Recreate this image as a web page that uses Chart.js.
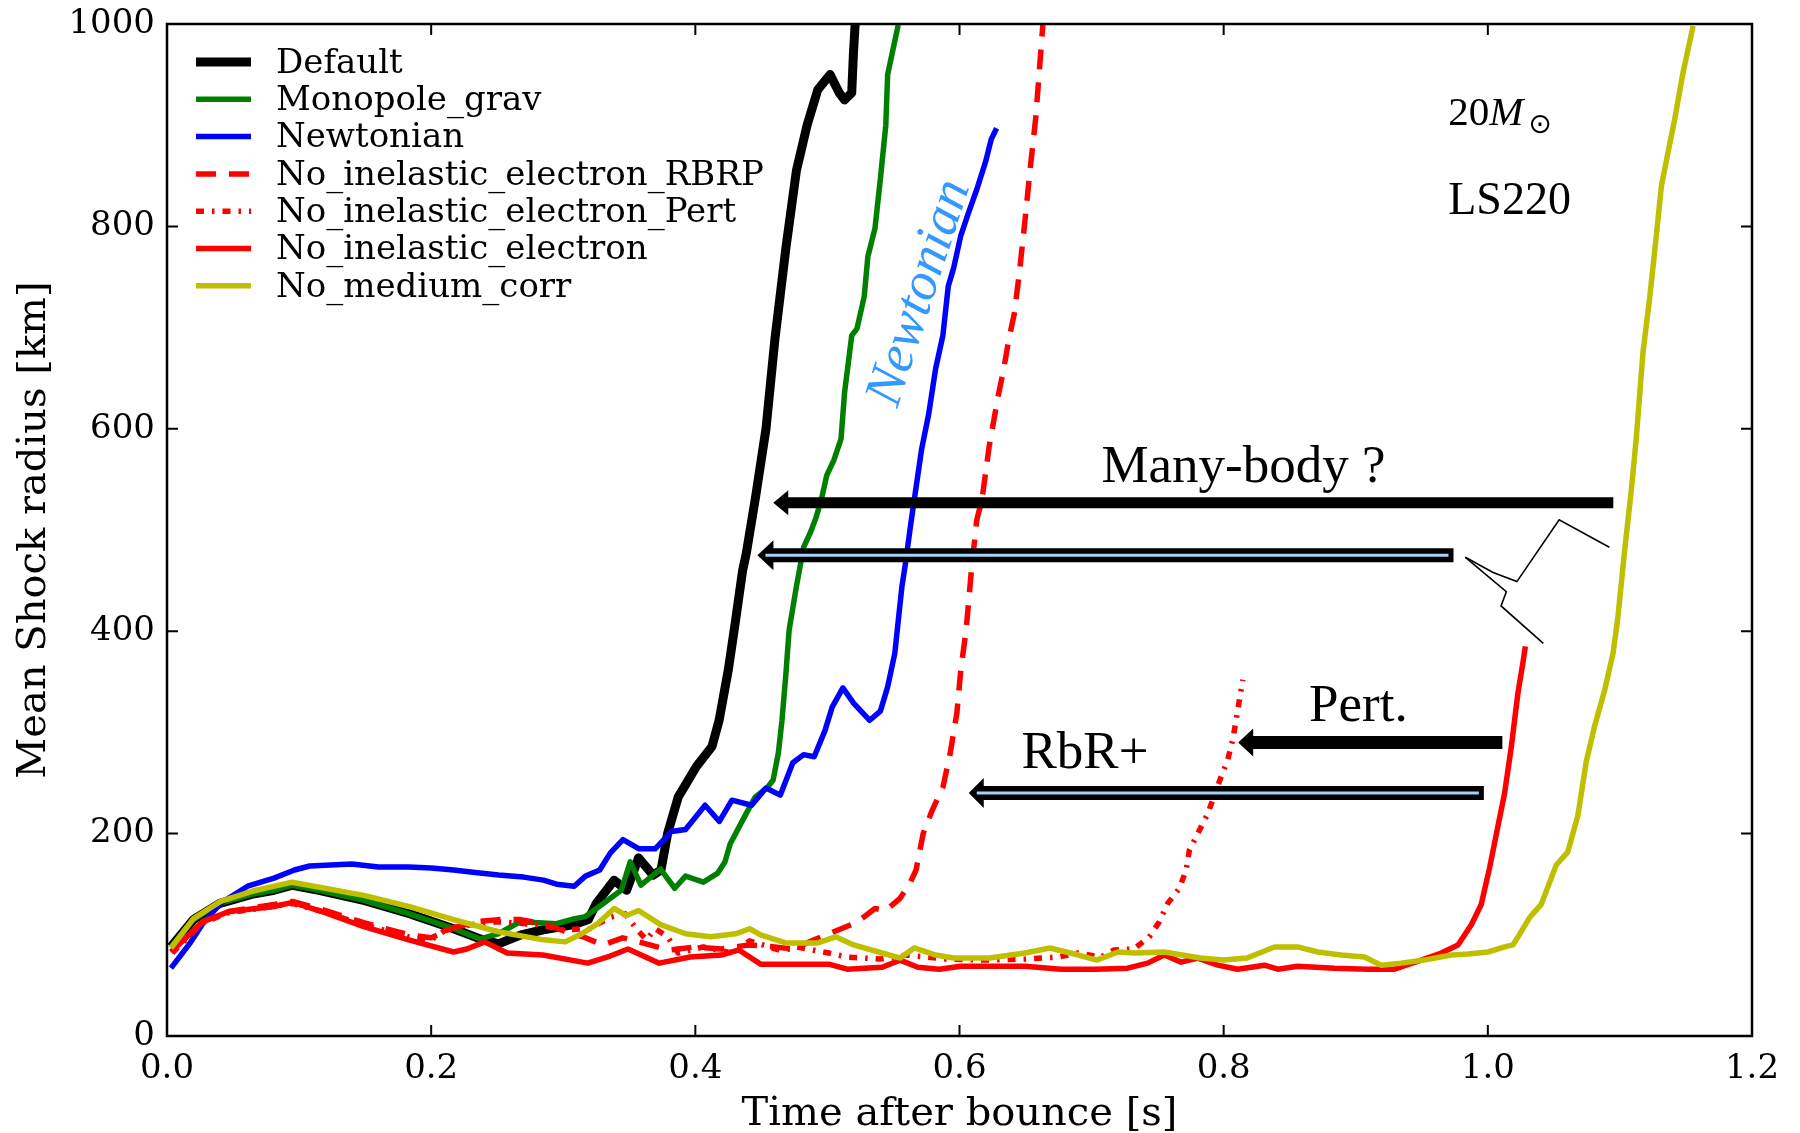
<!DOCTYPE html>
<html>
<head>
<meta charset="utf-8">
<script src="https://cdn.jsdelivr.net/npm/chart.js@4.4.0/dist/chart.umd.min.js"></script>
<style>
  html, body { margin: 0; padding: 0; background: #fff; }
</style>
</head>
<body>
<canvas id="shock-chart" width="1800" height="1133"></canvas>
<script>
// Mean shock radius [km] vs time after bounce [s], 20 Msun, LS220
// each run: [time, radius] pairs
const runDefault = [[0.003,88],[0.02,115],[0.04,131],[0.064,140],[0.081,144],[0.095,149],[0.115,144],[0.149,134],[0.183,121],[0.217,106],[0.237,96],[0.251,91],[0.268,100],[0.285,105],[0.308,110],[0.319,115],[0.325,131],[0.3385,154],[0.348,144],[0.357,176],[0.368,159],[0.374,164],[0.379,200],[0.387,236],[0.4007,266],[0.4126,286],[0.418,312],[0.425,362],[0.4305,411],[0.4358,460],[0.4386,477],[0.4453,530],[0.4535,600],[0.4602,688],[0.4684,777],[0.4765,855],[0.4846,900],[0.4927,935],[0.502,950],[0.5089,932],[0.513,925],[0.5184,932],[0.5197,971],[0.521,1000]];
const runMonopole = [[0.003,88],[0.02,115],[0.04,131],[0.064,140],[0.081,144],[0.095,149],[0.115,144],[0.149,134],[0.183,121],[0.217,106],[0.237,96],[0.2507,101],[0.2677,113],[0.2948,111],[0.3087,116],[0.3168,118],[0.3303,131],[0.3439,144],[0.3507,172],[0.3588,149],[0.3736,165],[0.3844,146],[0.3926,158],[0.4061,152],[0.417,161],[0.4224,172],[0.4264,190],[0.4305,200],[0.4386,220],[0.4453,236],[0.4548,246],[0.4589,253],[0.4629,280],[0.4656,312],[0.4684,355],[0.471,401],[0.4765,444],[0.482,483],[0.4873,498],[0.4913,512],[0.4954,530],[0.4995,554],[0.5049,569],[0.5103,590],[0.513,636],[0.5157,664],[0.5184,692],[0.5224,699],[0.5279,731],[0.5306,770],[0.536,798],[0.5401,847],[0.5442,900],[0.5456,950],[0.5536,999]];
const runNewtonian = [[0.003,67],[0.017,91],[0.027,111],[0.0405,131],[0.061,148],[0.081,156],[0.0965,164],[0.108,168],[0.14,170],[0.16,167],[0.183,167],[0.2,166],[0.217,164],[0.23,162],[0.251,159],[0.27,157],[0.285,154],[0.295,150],[0.3083,148],[0.3168,158],[0.3276,164],[0.3357,181],[0.3452,194],[0.3574,185],[0.3696,185],[0.3818,202],[0.3926,204],[0.4074,228],[0.4182,212],[0.4277,233],[0.4426,228],[0.4535,245],[0.4643,238],[0.4738,270],[0.482,278],[0.49,276],[0.4982,302],[0.5036,325],[0.5117,344],[0.5198,329],[0.532,312],[0.5401,321],[0.5456,345],[0.551,378],[0.5537,411],[0.5564,444],[0.5591,467],[0.563,505],[0.5712,579],[0.5766,614],[0.582,660],[0.5874,692],[0.5915,741],[0.5956,759],[0.601,791],[0.6064,812],[0.6132,837],[0.62,865],[0.624,886],[0.6281,897]];
const runNoInelRBRP = [[0.004,85],[0.027,113],[0.047,123],[0.081,130],[0.095,133],[0.115,126],[0.149,112],[0.183,100],[0.2,97],[0.217,107],[0.235,113],[0.2507,115],[0.2677,115],[0.2846,111],[0.3,104],[0.315,98],[0.33,90],[0.345,97],[0.36,92],[0.38,85],[0.4,88],[0.42,86],[0.44,90],[0.46,88],[0.474,86],[0.49,95],[0.501,101],[0.52,111],[0.525,115],[0.536,126],[0.5441,124],[0.555,136],[0.559,144],[0.5621,150],[0.5671,164],[0.5725,200],[0.5793,223],[0.5875,246],[0.5929,279],[0.598,319],[0.601,362],[0.605,401],[0.609,460],[0.6131,510],[0.617,530],[0.6224,582],[0.6292,632],[0.6332,657],[0.6373,688],[0.6414,713],[0.6455,756],[0.6495,805],[0.6536,858],[0.6577,907],[0.6604,953],[0.6631,999]];
const runNoInelPert = [[0.004,82],[0.027,112],[0.047,122],[0.081,128],[0.095,131],[0.115,124],[0.149,110],[0.183,98],[0.2,95],[0.21,104],[0.23,110],[0.25,113],[0.28,110],[0.3,105],[0.32,106],[0.335,117],[0.3466,121],[0.356,105],[0.363,95],[0.3697,106],[0.379,98],[0.387,82],[0.406,88],[0.428,82],[0.441,94],[0.4657,84],[0.4765,88],[0.501,82],[0.515,78],[0.54,76],[0.56,80],[0.59,76],[0.62,75],[0.65,76],[0.675,78],[0.69,82],[0.707,78],[0.717,85],[0.732,86],[0.7437,98],[0.7513,113],[0.7576,131],[0.7665,146],[0.7716,164],[0.7741,184],[0.7804,200],[0.788,220],[0.798,256],[0.8031,273],[0.8069,293],[0.8094,312],[0.8119,332],[0.8145,352]];
const runNoInel = [[0.003,83],[0.027,113],[0.047,123],[0.081,128],[0.095,132],[0.115,124],[0.149,108],[0.183,95],[0.217,83],[0.227,86],[0.2405,93],[0.2575,82],[0.2846,80],[0.3185,72],[0.3355,79],[0.349,86],[0.3727,72],[0.396,78],[0.4196,80],[0.433,85],[0.4494,71],[0.474,71],[0.501,71],[0.515,66],[0.5414,68],[0.555,75],[0.5685,68],[0.5847,66],[0.601,69],[0.6226,69],[0.6497,69],[0.6767,66],[0.7038,66],[0.7273,67],[0.7424,72],[0.7551,80],[0.7677,73],[0.7804,77],[0.7955,70],[0.8106,66],[0.8309,70],[0.841,66],[0.856,69],[0.8838,67],[0.9091,66],[0.9293,66],[0.9495,75],[0.9648,82],[0.9774,90],[0.9875,110],[0.995,130],[1.0013,166],[1.0076,207],[1.0127,240],[1.0178,286],[1.0228,339],[1.0266,369],[1.0284,385]];
const runNoMedium = [[0.003,87],[0.02,116],[0.0405,133],[0.0643,143],[0.0948,152],[0.149,139],[0.183,128],[0.217,115],[0.251,103],[0.285,95],[0.3016,93],[0.314,101],[0.325,110],[0.3385,126],[0.348,119],[0.357,124],[0.3737,110],[0.3926,101],[0.4115,98],[0.4305,101],[0.4412,106],[0.4494,100],[0.4684,92],[0.4927,92],[0.5062,98],[0.5198,90],[0.5414,82],[0.555,77],[0.5657,87],[0.582,80],[0.5955,77],[0.6226,77],[0.6387,80],[0.6495,82],[0.6684,87],[0.6902,80],[0.7038,75],[0.72,83],[0.7323,82],[0.7551,83],[0.7823,77],[0.8,75],[0.8177,77],[0.8385,88],[0.856,88],[0.8712,83],[0.8889,80],[0.9066,78],[0.9193,70],[0.9344,72],[0.9518,75],[0.9723,80],[0.985,81],[1.0001,83],[1.0128,88],[1.019,90],[1.0229,98],[1.0316,117],[1.0404,130],[1.0518,169],[1.0606,182],[1.0682,218],[1.0745,271],[1.0808,306],[1.0885,342],[1.0948,378],[1.0985,414],[1.1036,480],[1.1086,539],[1.1124,591],[1.1175,676],[1.1225,729],[1.1263,775],[1.1314,840],[1.1364,873],[1.1415,906],[1.1478,952],[1.1554,998]];

const labels = ['Default', 'Monopole_grav', 'Newtonian', 'No_inelastic_electron_RBRP',
  'No_inelastic_electron_Pert', 'No_inelastic_electron', 'No_medium_corr'];
const xTicks = [0, 0.2, 0.4, 0.6, 0.8, 1.0, 1.2];
const yTicks = [0, 200, 400, 600, 800, 1000];

const runs = [runDefault, runMonopole, runNewtonian, runNoInelRBRP, runNoInelPert, runNoInel, runNoMedium];
const styles = [
  { color: '#000000', width: 9, dash: [] },
  { color: '#008000', width: 5.5, dash: [] },
  { color: '#0000ff', width: 5.5, dash: [] },
  { color: '#ff0000', width: 5.5, dash: [20, 13] },
  { color: '#ff0000', width: 5.5, dash: [8, 8, 2.5, 8] },
  { color: '#ff0000', width: 5.5, dash: [] },
  { color: '#bfbf00', width: 5.5, dash: [] }
];

const serif = '"DejaVu Serif", serif';
const times = '"Liberation Serif", "Times New Roman", serif';

const datasets = runs.map((run, i) => ({
  label: labels[i],
  data: run.map(p => ({ x: p[0], y: p[1] })),
  borderColor: styles[i].color,
  backgroundColor: styles[i].color,
  borderWidth: styles[i].width,
  borderDash: styles[i].dash,
  borderCapStyle: 'butt',
  borderJoinStyle: 'round',
  pointRadius: 0,
  tension: 0,
  fill: false,
  clip: 0,
  order: runs.length - i   // later runs drawn on top, like matplotlib
}));

// annotation spots, in data units
const arrows = [
  { from: 1.095, to: 0.459, r: 527, thick: 11, head: 25, len: 15, hollow: false },
  { from: 0.974, to: 0.447, r: 475, thick: 14, head: 30, len: 16, hollow: true },
  { from: 1.011, to: 0.811, r: 290, thick: 13, head: 28, len: 15, hollow: false },
  { from: 0.997, to: 0.607, r: 240, thick: 14, head: 30, len: 15, hollow: true }
];
const brace1 = [[0.983,473],[1.004,458],[1.022,449],[1.054,510],[1.092,483]];
const brace2 = [[0.983,473],[1.014,439],[1.010,425],[1.042,388]];

function drawArrow(ctx, xTail, xTip, y, a) {
  ctx.fillStyle = '#000';
  ctx.beginPath();
  ctx.moveTo(xTip, y);
  ctx.lineTo(xTip + a.len, y - a.head / 2);
  ctx.lineTo(xTip + a.len, y - a.thick / 2);
  ctx.lineTo(xTail, y - a.thick / 2);
  ctx.lineTo(xTail, y + a.thick / 2);
  ctx.lineTo(xTip + a.len, y + a.thick / 2);
  ctx.lineTo(xTip + a.len, y + a.head / 2);
  ctx.closePath();
  ctx.fill();
  if (a.hollow) {
    ctx.strokeStyle = '#a6d2f2';
    ctx.lineWidth = 3;
    ctx.setLineDash([]);
    ctx.beginPath();
    ctx.moveTo(xTip + 8, y);
    ctx.lineTo(xTail - 5, y);
    ctx.stroke();
  }
}

const decorPlugin = {
  id: 'decor',
  afterDatasetsDraw(chart) {
    const ctx = chart.ctx;
    const area = chart.chartArea;
    const sx = chart.scales.x, sy = chart.scales.y;
    const X = v => sx.getPixelForValue(v);
    const Y = v => sy.getPixelForValue(v);
    ctx.save();

    // frame and inward ticks
    ctx.strokeStyle = '#000';
    ctx.lineWidth = 2.5;
    ctx.setLineDash([]);
    ctx.strokeRect(area.left, area.top, area.right - area.left, area.bottom - area.top);
    const tl = 11;
    ctx.lineWidth = 2;
    ctx.beginPath();
    xTicks.forEach(v => {
      const x = X(v);
      ctx.moveTo(x, area.bottom); ctx.lineTo(x, area.bottom - tl);
      ctx.moveTo(x, area.top); ctx.lineTo(x, area.top + tl);
    });
    yTicks.forEach(v => {
      const y = Y(v);
      ctx.moveTo(area.left, y); ctx.lineTo(area.left + tl, y);
      ctx.moveTo(area.right, y); ctx.lineTo(area.right - tl, y);
    });
    ctx.stroke();

    // legend
    ctx.font = '34px ' + serif;
    ctx.textBaseline = 'middle';
    ctx.textAlign = 'left';
    chart.data.datasets.forEach((ds, i) => {
      const y = area.top + 38 + i * 37.3;
      ctx.strokeStyle = ds.borderColor;
      ctx.lineWidth = ds.borderWidth;
      ctx.setLineDash(ds.borderDash);
      ctx.lineCap = 'butt';
      ctx.beginPath();
      ctx.moveTo(area.left + 29, y);
      ctx.lineTo(area.left + 84, y);
      ctx.stroke();
      ctx.fillStyle = '#000';
      ctx.fillText(ds.label, area.left + 109, y + 2);
    });
    ctx.setLineDash([]);

    // arrows
    arrows.forEach(a => drawArrow(ctx, X(a.from), X(a.to), Y(a.r), a));

    // curly connector
    ctx.strokeStyle = '#000';
    ctx.lineWidth = 1.6;
    [brace1, brace2].forEach(b => {
      ctx.beginPath();
      b.forEach((p, i) => i ? ctx.lineTo(X(p[0]), Y(p[1])) : ctx.moveTo(X(p[0]), Y(p[1])));
      ctx.stroke();
    });

    // text labels
    ctx.fillStyle = '#000';
    ctx.textBaseline = 'alphabetic';
    ctx.textAlign = 'center';
    ctx.font = '53px ' + times;
    ctx.fillText('Many-body ?', X(0.815), Y(547));
    ctx.fillText('Pert.', X(0.902), Y(311));
    ctx.fillText('RbR+', X(0.695), Y(265));

    ctx.textAlign = 'left';
    let x = X(0.970);
    let y = Y(900);
    ctx.font = '41px ' + times;
    ctx.fillText('20', x, y);
    x += ctx.measureText('20').width;
    ctx.font = 'italic 41px ' + times;
    ctx.fillText('M', x, y);
    x += ctx.measureText('M').width + 5;
    ctx.font = '28px "DejaVu Sans", sans-serif';
    ctx.fillText('\u2299', x, y + 8);
    ctx.font = '46px ' + times;
    ctx.fillText('LS220', X(0.970), Y(812));

    ctx.save();
    ctx.translate(X(0.570), Y(734));
    ctx.rotate(-72 * Math.PI / 180);
    ctx.textAlign = 'center';
    ctx.textBaseline = 'middle';
    ctx.font = 'italic 54px ' + times;
    ctx.fillStyle = '#3399ff';
    ctx.fillText('Newtonian', 0, 0);
    ctx.restore();

    ctx.restore();
  }
};

const ctx = document.getElementById('shock-chart').getContext('2d');
const shockChart = new Chart(ctx, {
  type: 'line',
  data: { datasets: datasets },
  plugins: [decorPlugin],
  options: {
    responsive: false,
    devicePixelRatio: 1,
    animation: false,
    events: [],
    layout: { padding: { top: 24, right: 48, left: 0, bottom: 0 } },
    plugins: {
      legend: { display: false },
      tooltip: { enabled: false },
      title: { display: false }
    },
    scales: {
      x: {
        type: 'linear',
        min: 0,
        max: 1.2,
        afterFit: s => { s.height = 97; s.paddingLeft = 0; s.paddingRight = 0; },
        afterBuildTicks: s => { s.ticks = xTicks.map(v => ({ value: v })); },
        grid: { display: false, drawTicks: false },
        border: { display: false },
        ticks: {
          color: '#000',
          font: { family: serif, size: 34 },
          padding: 13,
          maxRotation: 0,
          callback: v => Number(v).toFixed(1)
        },
        title: {
          display: true,
          text: 'Time after bounce [s]',
          color: '#000',
          font: { family: serif, size: 40, lineHeight: 0.9 },
          padding: { top: 0, bottom: 0 }
        }
      },
      y: {
        type: 'linear',
        min: 0,
        max: 1000,
        afterFit: s => { s.width = 167; s.paddingTop = 0; s.paddingBottom = 0; },
        afterBuildTicks: s => { s.ticks = yTicks.map(v => ({ value: v })); },
        grid: { display: false, drawTicks: false },
        border: { display: false },
        ticks: {
          color: '#000',
          font: { family: serif, size: 34 },
          padding: 12,
          callback: v => String(v)
        },
        title: {
          display: true,
          text: 'Mean Shock radius [km]',
          color: '#000',
          font: { family: serif, size: 40, lineHeight: 1.2 },
          padding: { top: 11, bottom: 0 }
        }
      }
    }
  }
});
</script>
</body>
</html>
